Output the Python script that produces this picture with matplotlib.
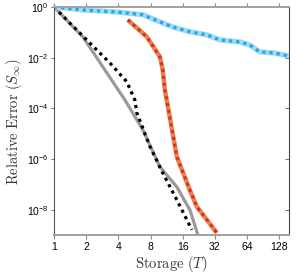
import numpy as np
import matplotlib
matplotlib.use('Agg')
import matplotlib.pyplot as plt

# Datos (T, log10 del error)
gray_T = [1, 1.86, 2.86, 4.6, 6.77, 9.8, 14.1, 18.7, 22.2]
gray_e = [0, -1.18, -2.36, -3.66, -4.84, -6.3, -7.09, -8.0, -8.98]

black_T = [1, 1.40, 2.16, 3.32, 4.8, 5.7, 5.95, 7.9, 10.4, 14.1, 19.5]
black_e = [0, -0.63, -1.42, -2.2, -2.95, -3.66, -4.17, -5.5, -6.54, -7.6, -8.78]

red_T = [4.9, 7.4, 9.8, 10.4, 10.9, 14.1, 18.6, 21.7, 33.4]
red_e = [-0.51, -1.18, -1.97, -2.48, -3.27, -5.9, -7.2, -7.87, -8.9]

blue_T = [1, 1.86, 3.87, 6.8, 9.8, 12.9, 18.7, 26.9, 35.6, 55, 68, 84, 112, 158]
blue_e = [0, -0.12, -0.2, -0.31, -0.59, -0.79, -0.98, -1.1, -1.3, -1.38, -1.5,
          -1.77, -1.81, -1.93]

xticks = [1, 2, 4, 8, 16, 32, 64, 128]
yticks = [1e0, 1e-2, 1e-4, 1e-6, 1e-8]

plt.rcParams['font.family'] = ['Liberation Sans', 'DejaVu Sans']
plt.rcParams['mathtext.fontset'] = 'custom'
plt.rcParams['mathtext.rm'] = 'Liberation Sans'
plt.rcParams['mathtext.it'] = 'Liberation Sans:italic'

fig = plt.figure(figsize=(2.97, 2.77), dpi=100)
ax = fig.add_axes([0.182, 0.150, 0.791, 0.825])

dots = (1, 1.25)


def curva(T, e, **kw):
    ax.plot(T, 10.0 ** np.array(e), **kw)


curva(gray_T, gray_e, color='#9a9a9a', lw=2.3, solid_capstyle='butt')
curva(black_T, black_e, color='black', lw=2.3, dashes=dots, dash_capstyle='butt')
curva(red_T, red_e, color='#f47a55', lw=3.2, solid_capstyle='butt')
curva(red_T, red_e, color='#c23e12', lw=2.2, dashes=dots, dash_capstyle='butt')
curva(blue_T, blue_e, color='#9fdaf7', lw=3.8, solid_capstyle='butt')
curva(blue_T, blue_e, color='#25a6e0', lw=2.3, dashes=dots, dash_capstyle='butt')

ax.set_xscale('log', base=2)
ax.set_yscale('log')
ax.set_xlim(1, 158)
ax.set_ylim(1e-9, 1e0)

ax.set_xticks(xticks)
ax.set_xticklabels([str(t) for t in xticks])
ax.set_yticks(yticks)
ax.set_yticklabels([r'$10^{%d}$' % int(np.log10(t)) for t in yticks])
ax.minorticks_off()

ax.tick_params(axis='x', direction='out', top=True, bottom=True, length=3,
               width=0.8, color='#888888', labelsize=7.5, pad=2)
ax.tick_params(axis='y', direction='out', left=True, right=False, length=2,
               width=0.6, color='#555555', labelsize=7.5, pad=2)

sec = ax.secondary_yaxis('right')
sec.set_yscale('log')
sec.set_yticks(yticks)
sec.set_yticklabels([])
sec.minorticks_off()
sec.tick_params(axis='y', direction='in', length=3, width=0.6, color='#555555')
sec.spines['right'].set_color('#444444')
sec.spines['right'].set_linewidth(0.8)

ax.spines['top'].set_color('#a0a0a0')
ax.spines['bottom'].set_color('#a0a0a0')
ax.spines['top'].set_linewidth(1.4)
ax.spines['bottom'].set_linewidth(1.4)
ax.spines['left'].set_color('#555555')
ax.spines['left'].set_linewidth(0.8)
ax.spines['right'].set_visible(False)

ax.set_xlabel(r'$\mathrm{Storage}\ (T)$', fontsize=10.5, math_fontfamily='cm',
              color='#333333', labelpad=1)
ax.set_ylabel(r'$\mathrm{Relative\ Error}\ (S_\infty)$', fontsize=10.5,
              math_fontfamily='cm', color='#333333', labelpad=2)

fig.savefig('out.png', dpi=100)
